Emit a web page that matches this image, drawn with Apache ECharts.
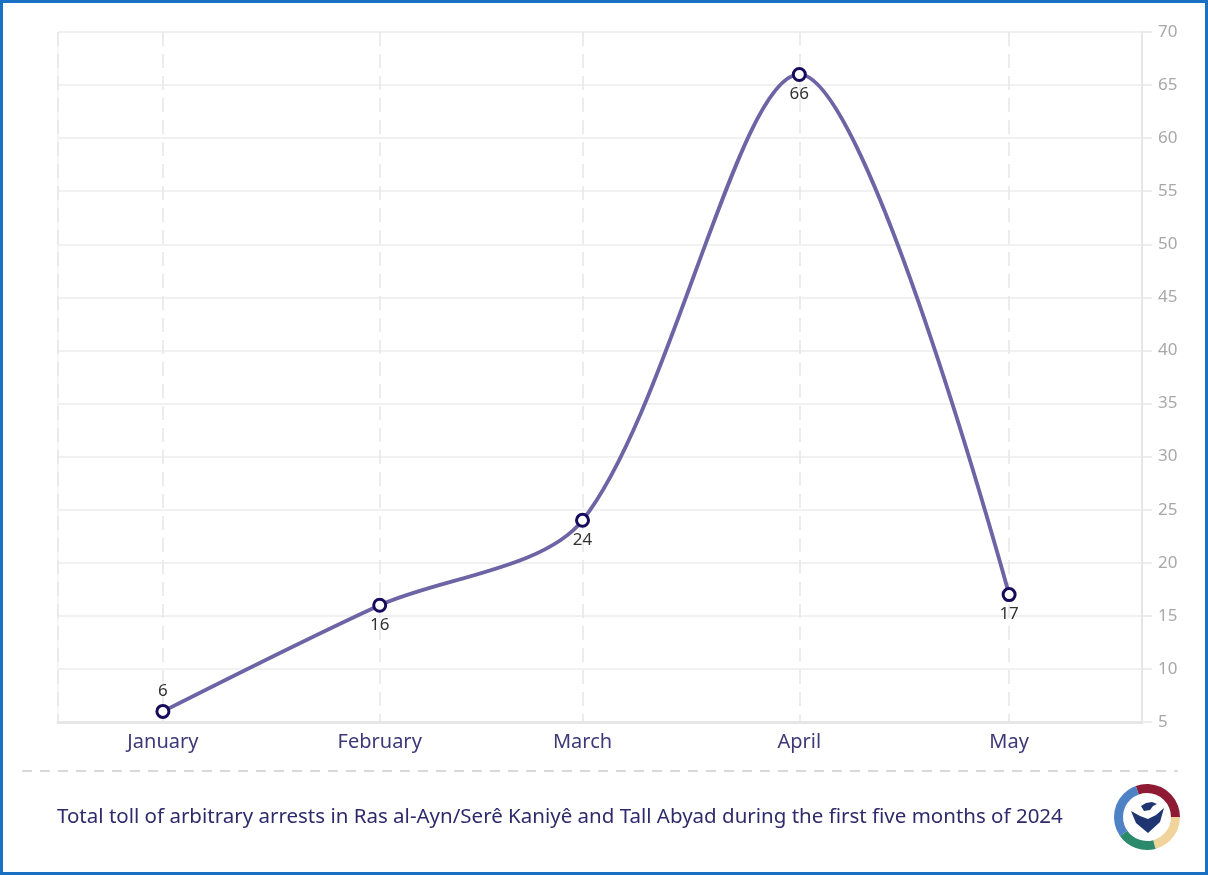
<!DOCTYPE html>
<html>
<head>
<meta charset="utf-8">
<script src="https://cdn.jsdelivr.net/npm/echarts@6/dist/echarts.min.js"></script>
<style>
  html, body { margin: 0; padding: 0; background: #ffffff; }
  #chart { width: 1208px; height: 875px; }
</style>
</head>
<body>
<div id="chart"></div>
<script>
// Monthly arrests, first five months of 2024
const monthDates = ['2024-01-01', '2024-02-01', '2024-03-01', '2024-04-01', '2024-05-01'];
const monthNames = ['January', 'February', 'March', 'April', 'May'];
const arrests = [6, 16, 24, 66, 17];
const labelSides = ['top', 'bottom', 'bottom', 'bottom', 'bottom'];

// Value axis range
const yMin = 5;
const yMax = 70;
const yStep = 5;

const caption = 'Total toll of arbitrary arrests in Ras al-Ayn/Serê Kaniyê and Tall Abyad during the first five months of 2024';

const FONT = '"Noto Sans", "Open Sans", sans-serif';

const seriesData = monthDates.map((d, i) => ({
  value: [d, arrests[i]],
  label: { position: labelSides[i] }
}));

const chart = echarts.init(document.getElementById('chart'), null, { renderer: 'canvas' });

// Emblem: a four-colour ring with a shield inside
const cx = 1147, cy = 817;
const deg = Math.PI / 180;
const ringParts = [
  { from: -110, to: 0, color: '#8e1b33' },
  { from: 0, to: 75, color: '#f1d49c' },
  { from: 75, to: 145, color: '#2b8a6c' },
  { from: 145, to: 250, color: '#4d82c4' }
];
const ring = ringParts.map(p => ({
  type: 'sector',
  shape: { cx: cx, cy: cy, r: 33, r0: 24, startAngle: p.from * deg, endAngle: p.to * deg },
  style: { fill: p.color },
  silent: true
}));

chart.setOption({
  animation: false,
  backgroundColor: '#ffffff',
  grid: {
    left: 58, right: 66, top: 32, bottom: 153,
    show: true, borderColor: '#ececec', borderWidth: 1
  },
  xAxis: {
    type: 'time',
    min: '2023-12-17',
    max: '2024-05-20',
    splitNumber: 5,
    minInterval: 28 * 86400000,
    axisLine: { show: true, lineStyle: { color: '#e6e6e6', width: 3 } },
    axisTick: { show: false },
    axisLabel: {
      color: '#3d3878',
      fontSize: 20,
      fontFamily: FONT,
      margin: 10,
      showMinLabel: false,
      showMaxLabel: false,
      formatter: function (value) {
        const m = new Date(value).getMonth();
        return monthNames[m] || '';
      }
    },
    splitLine: {
      show: true,
      lineStyle: { color: '#e6e6e6', width: 1.5, type: [14, 8] }
    }
  },
  yAxis: {
    type: 'value',
    position: 'right',
    min: yMin,
    max: yMax,
    interval: yStep,
    axisLine: { show: true, lineStyle: { color: '#e6e6e6', width: 2 } },
    axisTick: { show: true, length: 10, lineStyle: { color: '#e6e6e6', width: 1.5 } },
    axisLabel: { color: '#a8a8a8', fontSize: 17, fontFamily: FONT, margin: 16 },
    splitLine: { show: true, lineStyle: { color: '#ececec', width: 1.5 } }
  },
  series: [{
    type: 'line',
    data: seriesData,
    smooth: 0.3,
    symbol: 'circle',
    symbolSize: 12,
    lineStyle: { color: '#6c64a4', width: 3.8 },
    itemStyle: { color: '#ffffff', borderColor: '#170b5c', borderWidth: 3 },
    label: {
      show: true,
      color: '#333333',
      fontSize: 17,
      fontFamily: FONT,
      distance: 4,
      formatter: p => p.value[1]
    },
    z: 5
  }],
  graphic: [
    {
      type: 'rect',
      shape: { x: 1.5, y: 1.5, width: 1205, height: 872 },
      style: { fill: 'none', stroke: '#1a70c2', lineWidth: 3 },
      silent: true
    },
    {
      type: 'line',
      shape: { x1: 22, y1: 771, x2: 1178, y2: 771 },
      style: { stroke: '#d9d9d9', lineWidth: 2, lineDash: [10, 8] },
      silent: true
    },
    {
      type: 'text',
      x: 57, y: 817,
      style: {
        text: caption,
        fill: '#2f2a6b',
        font: '20.5px ' + FONT,
        textVerticalAlign: 'middle'
      },
      silent: true
    },
    ...ring,
    {
      type: 'polygon',
      shape: { points: [[1131, 811], [1140, 816], [1148, 819], [1156, 815], [1164, 808], [1160, 822], [1148, 833], [1136, 823]] },
      style: { fill: '#1f3572' },
      silent: true
    },
    {
      type: 'polygon',
      shape: { points: [[1141, 806], [1146, 803], [1152, 802], [1157, 804], [1153, 806], [1150, 810], [1144, 811]] },
      style: { fill: '#1f3572' },
      silent: true
    }
  ]
});
</script>
</body>
</html>
